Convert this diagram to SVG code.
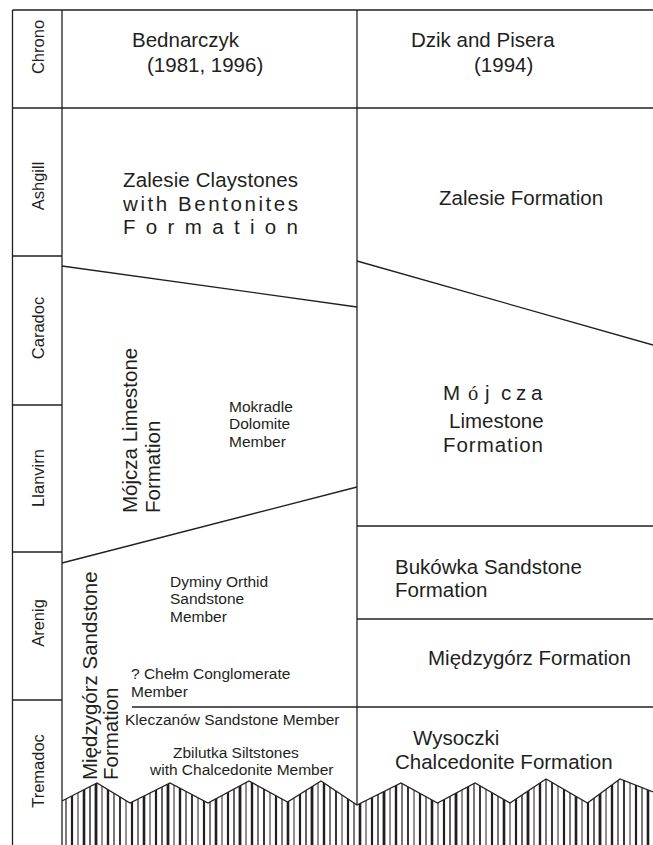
<svg xmlns="http://www.w3.org/2000/svg" width="653" height="845" viewBox="0 0 653 845">
<style>
.ln{stroke:#231f20;stroke-width:1.3;fill:none}
.t{font-family:"Liberation Sans",Arial,sans-serif;fill:#231f20}
.big{font-size:20.5px}
.sm{font-size:15.5px}
.ch{font-size:16.5px}
.h{stroke:#231f20}
</style>
<defs>
<clipPath id="hclip">
<polygon points="62,801 97,783 130,803 170,783 208,803 249,781 287.5,802 321,781 357,805 401,783 437.5,803 475,783 510,803 546,779 587.5,803 620,779 653,792 653,845 62,845"/>
</clipPath>
</defs>
<rect width="653" height="845" fill="#ffffff"/>
<g id="connectors">
<line class="ln" x1="12.5" y1="10" x2="653" y2="10"/>
<line class="ln" x1="12.5" y1="10" x2="12.5" y2="845"/>
<line class="ln" x1="62" y1="10" x2="62" y2="845"/>
<line class="ln" x1="357" y1="10" x2="357" y2="805"/>
<line class="ln" x1="12.5" y1="108" x2="653" y2="108"/>
<line class="ln" x1="12.5" y1="256" x2="62" y2="256"/>
<line class="ln" x1="12.5" y1="405" x2="62" y2="405"/>
<line class="ln" x1="12.5" y1="552" x2="62" y2="552"/>
<line class="ln" x1="12.5" y1="700" x2="62" y2="700"/>
<line class="ln" x1="62" y1="266" x2="357" y2="307"/>
<line class="ln" x1="62" y1="563" x2="357" y2="487"/>
<line class="ln" x1="132" y1="707" x2="357" y2="707"/>
<line class="ln" x1="357" y1="261" x2="653" y2="345"/>
<line class="ln" x1="357" y1="526" x2="653" y2="526"/>
<line class="ln" x1="357" y1="619" x2="653" y2="619"/>
<line class="ln" x1="357" y1="707" x2="653" y2="707"/>
</g>
<g id="hatch" clip-path="url(#hclip)">
<line class="h" x1="66" y1="775" x2="66" y2="845" stroke-width="1.2"/>
<line class="h" x1="72" y1="775" x2="72" y2="845" stroke-width="2.2"/>
<line class="h" x1="78" y1="775" x2="78" y2="845" stroke-width="1"/>
<line class="h" x1="84" y1="775" x2="84" y2="845" stroke-width="2.6"/>
<line class="h" x1="90" y1="775" x2="90" y2="845" stroke-width="1.4"/>
<line class="h" x1="96" y1="775" x2="96" y2="845" stroke-width="2.8"/>
<line class="h" x1="102" y1="775" x2="102" y2="845" stroke-width="1"/>
<line class="h" x1="108" y1="775" x2="108" y2="845" stroke-width="2.4"/>
<line class="h" x1="114" y1="775" x2="114" y2="845" stroke-width="1.2"/>
<line class="h" x1="120" y1="775" x2="120" y2="845" stroke-width="1.8"/>
<line class="h" x1="126" y1="775" x2="126" y2="845" stroke-width="1"/>
<line class="h" x1="132" y1="775" x2="132" y2="845" stroke-width="2.2"/>
<line class="h" x1="138" y1="775" x2="138" y2="845" stroke-width="1.2"/>
<line class="h" x1="144" y1="775" x2="144" y2="845" stroke-width="2.6"/>
<line class="h" x1="150" y1="775" x2="150" y2="845" stroke-width="1"/>
<line class="h" x1="156" y1="775" x2="156" y2="845" stroke-width="2.2"/>
<line class="h" x1="162" y1="775" x2="162" y2="845" stroke-width="1.4"/>
<line class="h" x1="168" y1="775" x2="168" y2="845" stroke-width="2.8"/>
<line class="h" x1="174" y1="775" x2="174" y2="845" stroke-width="1"/>
<line class="h" x1="180" y1="775" x2="180" y2="845" stroke-width="2.4"/>
<line class="h" x1="186" y1="775" x2="186" y2="845" stroke-width="1.2"/>
<line class="h" x1="192" y1="775" x2="192" y2="845" stroke-width="1.8"/>
<line class="h" x1="198" y1="775" x2="198" y2="845" stroke-width="1"/>
<line class="h" x1="204" y1="775" x2="204" y2="845" stroke-width="2.2"/>
<line class="h" x1="210" y1="775" x2="210" y2="845" stroke-width="1.2"/>
<line class="h" x1="216" y1="775" x2="216" y2="845" stroke-width="2.6"/>
<line class="h" x1="222" y1="775" x2="222" y2="845" stroke-width="1"/>
<line class="h" x1="228" y1="775" x2="228" y2="845" stroke-width="2.2"/>
<line class="h" x1="234" y1="775" x2="234" y2="845" stroke-width="1.4"/>
<line class="h" x1="240" y1="775" x2="240" y2="845" stroke-width="2.8"/>
<line class="h" x1="246" y1="775" x2="246" y2="845" stroke-width="1"/>
<line class="h" x1="252" y1="775" x2="252" y2="845" stroke-width="2.4"/>
<line class="h" x1="258" y1="775" x2="258" y2="845" stroke-width="1.2"/>
<line class="h" x1="264" y1="775" x2="264" y2="845" stroke-width="1.8"/>
<line class="h" x1="270" y1="775" x2="270" y2="845" stroke-width="1"/>
<line class="h" x1="276" y1="775" x2="276" y2="845" stroke-width="2.2"/>
<line class="h" x1="282" y1="775" x2="282" y2="845" stroke-width="1.2"/>
<line class="h" x1="288" y1="775" x2="288" y2="845" stroke-width="2.6"/>
<line class="h" x1="294" y1="775" x2="294" y2="845" stroke-width="1"/>
<line class="h" x1="300" y1="775" x2="300" y2="845" stroke-width="2.2"/>
<line class="h" x1="306" y1="775" x2="306" y2="845" stroke-width="1.4"/>
<line class="h" x1="312" y1="775" x2="312" y2="845" stroke-width="2.8"/>
<line class="h" x1="318" y1="775" x2="318" y2="845" stroke-width="1"/>
<line class="h" x1="324" y1="775" x2="324" y2="845" stroke-width="2.4"/>
<line class="h" x1="330" y1="775" x2="330" y2="845" stroke-width="1.2"/>
<line class="h" x1="336" y1="775" x2="336" y2="845" stroke-width="1.8"/>
<line class="h" x1="342" y1="775" x2="342" y2="845" stroke-width="1"/>
<line class="h" x1="348" y1="775" x2="348" y2="845" stroke-width="2.2"/>
<line class="h" x1="354" y1="775" x2="354" y2="845" stroke-width="1.2"/>
<line class="h" x1="360" y1="775" x2="360" y2="845" stroke-width="2.6"/>
<line class="h" x1="366" y1="775" x2="366" y2="845" stroke-width="1"/>
<line class="h" x1="372" y1="775" x2="372" y2="845" stroke-width="2.2"/>
<line class="h" x1="378" y1="775" x2="378" y2="845" stroke-width="1.4"/>
<line class="h" x1="384" y1="775" x2="384" y2="845" stroke-width="2.8"/>
<line class="h" x1="390" y1="775" x2="390" y2="845" stroke-width="1"/>
<line class="h" x1="396" y1="775" x2="396" y2="845" stroke-width="2.4"/>
<line class="h" x1="402" y1="775" x2="402" y2="845" stroke-width="1.2"/>
<line class="h" x1="408" y1="775" x2="408" y2="845" stroke-width="1.8"/>
<line class="h" x1="414" y1="775" x2="414" y2="845" stroke-width="1"/>
<line class="h" x1="420" y1="775" x2="420" y2="845" stroke-width="2.2"/>
<line class="h" x1="426" y1="775" x2="426" y2="845" stroke-width="1.2"/>
<line class="h" x1="432" y1="775" x2="432" y2="845" stroke-width="2.6"/>
<line class="h" x1="438" y1="775" x2="438" y2="845" stroke-width="1"/>
<line class="h" x1="444" y1="775" x2="444" y2="845" stroke-width="2.2"/>
<line class="h" x1="450" y1="775" x2="450" y2="845" stroke-width="1.4"/>
<line class="h" x1="456" y1="775" x2="456" y2="845" stroke-width="2.8"/>
<line class="h" x1="462" y1="775" x2="462" y2="845" stroke-width="1"/>
<line class="h" x1="468" y1="775" x2="468" y2="845" stroke-width="2.4"/>
<line class="h" x1="474" y1="775" x2="474" y2="845" stroke-width="1.2"/>
<line class="h" x1="480" y1="775" x2="480" y2="845" stroke-width="1.8"/>
<line class="h" x1="486" y1="775" x2="486" y2="845" stroke-width="1"/>
<line class="h" x1="492" y1="775" x2="492" y2="845" stroke-width="2.2"/>
<line class="h" x1="498" y1="775" x2="498" y2="845" stroke-width="1.2"/>
<line class="h" x1="504" y1="775" x2="504" y2="845" stroke-width="2.6"/>
<line class="h" x1="510" y1="775" x2="510" y2="845" stroke-width="1"/>
<line class="h" x1="516" y1="775" x2="516" y2="845" stroke-width="2.2"/>
<line class="h" x1="522" y1="775" x2="522" y2="845" stroke-width="1.4"/>
<line class="h" x1="528" y1="775" x2="528" y2="845" stroke-width="2.8"/>
<line class="h" x1="534" y1="775" x2="534" y2="845" stroke-width="1"/>
<line class="h" x1="540" y1="775" x2="540" y2="845" stroke-width="2.4"/>
<line class="h" x1="546" y1="775" x2="546" y2="845" stroke-width="1.2"/>
<line class="h" x1="552" y1="775" x2="552" y2="845" stroke-width="1.8"/>
<line class="h" x1="558" y1="775" x2="558" y2="845" stroke-width="1"/>
<line class="h" x1="564" y1="775" x2="564" y2="845" stroke-width="2.2"/>
<line class="h" x1="570" y1="775" x2="570" y2="845" stroke-width="1.2"/>
<line class="h" x1="576" y1="775" x2="576" y2="845" stroke-width="2.6"/>
<line class="h" x1="582" y1="775" x2="582" y2="845" stroke-width="1"/>
<line class="h" x1="588" y1="775" x2="588" y2="845" stroke-width="2.2"/>
<line class="h" x1="594" y1="775" x2="594" y2="845" stroke-width="1.4"/>
<line class="h" x1="600" y1="775" x2="600" y2="845" stroke-width="2.8"/>
<line class="h" x1="606" y1="775" x2="606" y2="845" stroke-width="1"/>
<line class="h" x1="612" y1="775" x2="612" y2="845" stroke-width="2.4"/>
<line class="h" x1="618" y1="775" x2="618" y2="845" stroke-width="1.2"/>
<line class="h" x1="624" y1="775" x2="624" y2="845" stroke-width="1.8"/>
<line class="h" x1="630" y1="775" x2="630" y2="845" stroke-width="1"/>
<line class="h" x1="636" y1="775" x2="636" y2="845" stroke-width="2.2"/>
<line class="h" x1="642" y1="775" x2="642" y2="845" stroke-width="1.2"/>
<line class="h" x1="648" y1="775" x2="648" y2="845" stroke-width="2.6"/>
</g>
<polyline class="ln" points="62,801 97,783 130,803 170,783 208,803 249,781 287.5,802 321,781 357,805 401,783 437.5,803 475,783 510,803 546,779 587.5,803 620,779 653,792"/>
<g id="chrono">
<text class="t ch" text-anchor="middle" transform="translate(43.5,47) rotate(-90)">Chrono</text>
<text class="t ch" text-anchor="middle" transform="translate(43.5,186) rotate(-90)">Ashgill</text>
<text class="t ch" text-anchor="middle" transform="translate(43.5,328) rotate(-90)">Caradoc</text>
<text class="t ch" text-anchor="middle" transform="translate(43.5,478) rotate(-90)">Llanvirn</text>
<text class="t ch" text-anchor="middle" transform="translate(43.5,623) rotate(-90)">Arenig</text>
<text class="t ch" text-anchor="middle" transform="translate(43.5,771) rotate(-90)">Tremadoc</text>
</g>
<g id="header-left">
<text class="t big" x="132" y="47">Bednarczyk</text>
<text class="t big" x="147" y="72">(1981, 1996)</text>
</g>
<g id="header-right">
<text class="t big" x="411" y="47">Dzik and Pisera</text>
<text class="t big" x="474" y="72">(1994)</text>
</g>
<g id="zalesie-claystones">
<text class="t big" x="123" y="187" textLength="175" lengthAdjust="spacing">Zalesie Claystones</text>
<text class="t big" x="123" y="211" textLength="175" lengthAdjust="spacing">with Bentonites</text>
<text class="t big" x="123" y="234" textLength="175" lengthAdjust="spacing">Formation</text>
</g>
<g id="zalesie-formation">
<text class="t big" x="439" y="205">Zalesie Formation</text>
</g>
<g id="mojcza-limestone-left">
<text class="t big" transform="translate(137,513) rotate(-90)">Mójcza Limestone</text>
<text class="t big" transform="translate(160,513) rotate(-90)">Formation</text>
</g>
<g id="mokradle">
<text class="t sm" x="229" y="412">Mokradle</text>
<text class="t sm" x="229" y="429">Dolomite</text>
<text class="t sm" x="229" y="447">Member</text>
</g>
<g id="mojcza-limestone-right">
<text class="t big" y="400"><tspan x="443">M</tspan><tspan x="468" style="font-family:'Liberation Serif',serif">ó</tspan><tspan x="485">j</tspan><tspan x="501">c</tspan><tspan x="516">z</tspan><tspan x="531">a</tspan></text>
<text class="t big" x="449" y="428">Limestone</text>
<text class="t big" x="443" y="452" textLength="100" lengthAdjust="spacing">Formation</text>
</g>
<g id="miedzygorz-sandstone">
<text class="t big" transform="translate(97,780) rotate(-90)">Międzygórz Sandstone</text>
<text class="t big" transform="translate(118,780) rotate(-90)">Formation</text>
</g>
<g id="dyminy">
<text class="t sm" x="170" y="587">Dyminy Orthid</text>
<text class="t sm" x="170" y="604">Sandstone</text>
<text class="t sm" x="170" y="622">Member</text>
</g>
<g id="chelm">
<text class="t sm" x="131" y="679">? Chełm Conglomerate</text>
<text class="t sm" x="131" y="697">Member</text>
</g>
<g id="kleczanow">
<text class="t sm" x="125" y="725">Kleczanów Sandstone Member</text>
</g>
<g id="zbilutka">
<text class="t sm" x="173" y="758">Zbilutka Siltstones</text>
<text class="t sm" x="150" y="775">with Chalcedonite Member</text>
</g>
<g id="bukowka">
<text class="t big" x="395" y="574">Bukówka Sandstone</text>
<text class="t big" x="395" y="597">Formation</text>
</g>
<g id="miedzygorz-formation">
<text class="t big" x="428" y="665">Międzygórz Formation</text>
</g>
<g id="wysoczki">
<text class="t big" x="413" y="745">Wysoczki</text>
<text class="t big" x="395" y="769">Chalcedonite Formation</text>
</g>
</svg>
